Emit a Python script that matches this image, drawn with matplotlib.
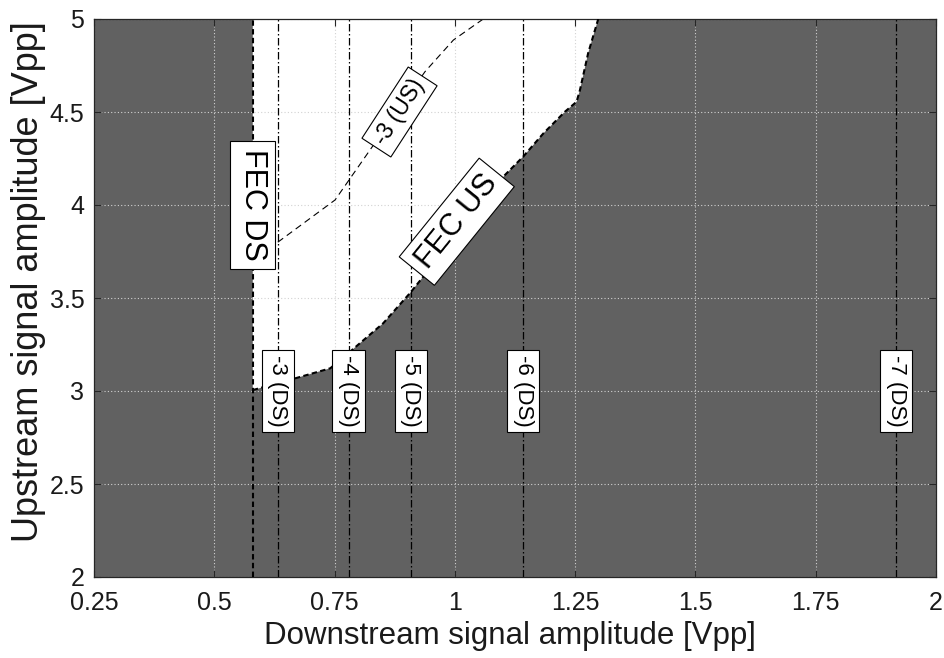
import matplotlib
matplotlib.use("Agg")
import matplotlib.pyplot as plt

plt.rcParams['font.family'] = ['Liberation Sans', 'DejaVu Sans']

# Axis ticks
x_ticks = [0.25, 0.5, 0.75, 1.0, 1.25, 1.5, 1.75, 2.0]
x_tick_labels = ['0.25', '0.5', '0.75', '1', '1.25', '1.5', '1.75', '2']
y_ticks = [2.0, 2.5, 3.0, 3.5, 4.0, 4.5, 5.0]
y_tick_labels = ['2', '2.5', '3', '3.5', '4', '4.5', '5']

# FEC thresholds
fec_ds_x = 0.58
fec_us_x = [0.58, 0.668, 0.741, 0.782, 0.851, 0.908, 1.104, 1.142, 1.184,
            1.229, 1.253, 1.260, 1.277, 1.298]
fec_us_y = [3.005, 3.068, 3.122, 3.211, 3.364, 3.53, 4.161, 4.26, 4.385,
            4.502, 4.555, 4.618, 4.816, 5.0]

# Upstream -3 contour
us3_x = [0.632, 0.751, 0.831, 0.938, 0.997, 1.059]
us3_y = [3.80, 4.027, 4.323, 4.717, 4.887, 5.0]
us3_label = '-3 (US)'

# Downstream contour levels (vertical)
ds_labels = ['-3 (DS)', '-4 (DS)', '-5 (DS)', '-6 (DS)', '-7 (DS)']
ds_x = [0.632, 0.779, 0.908, 1.142, 1.917]

fig = plt.figure(figsize=(9.44, 6.58), dpi=100)
ax = fig.add_axes([94 / 944, 1 - 577 / 658, 842 / 944, 558 / 658])
ax.set_facecolor('#616161')

# feasible (white) region
ax.fill([fec_ds_x] + fec_us_x, [5.0] + fec_us_y, color='white', lw=0, zorder=0.1)

ax.set_axisbelow(True)
ax.grid(True, color='#d2d2d2', linestyle=(0, (1, 2)), linewidth=0.8)

box = dict(boxstyle='square,pad=0.25', fc='white', ec='black', lw=0.8)

for xv, lab in zip(ds_x, ds_labels):
    ax.axvline(xv, color='black', lw=0.9, dashes=(6, 2, 1.2, 2), zorder=2)
    ax.text(xv, 3.0, lab, rotation=-90, ha='center', va='center',
            fontsize=16, bbox=box, zorder=4)

ax.plot(us3_x, us3_y, color='black', lw=0.8, dashes=(6, 4), zorder=2)
ax.text(0.885, 4.50, us3_label, rotation=57, ha='center', va='center',
        fontsize=16.5, bbox=box, zorder=4)

ax.axvline(fec_ds_x, color='black', lw=1.5, dashes=(2.6, 1.6), zorder=3)
ax.plot(fec_us_x, fec_us_y, color='black', lw=1.5, dashes=(2.6, 1.6), zorder=3)

ax.text(fec_ds_x, 4.0, 'FEC DS', rotation=-90, ha='center', va='center',
        fontsize=22, bbox=box, zorder=5)
ax.text(1.004, 3.91, 'FEC US', rotation=51, ha='center', va='center',
        fontsize=22, bbox=box, zorder=5)

ax.set_xlim(0.25, 2.0)
ax.set_ylim(2.0, 5.0)
ax.set_xticks(x_ticks)
ax.set_xticklabels(x_tick_labels)
ax.set_yticks(y_ticks)
ax.set_yticklabels(y_tick_labels)
ax.tick_params(direction='in', length=5, width=0.8, top=True, right=True,
               labelsize=18, color='#262626', labelcolor='#1a1a1a')
ax.tick_params(axis='x', pad=10)
ax.tick_params(axis='y', pad=7)
for s in ax.spines.values():
    s.set_color('#262626')
    s.set_linewidth(0.9)

ax.set_xlabel('Downstream signal amplitude [Vpp]', fontsize=22.5, color='#1a1a1a')
ax.set_ylabel('Upstream signal amplitude [Vpp]', fontsize=26, color='#1a1a1a')
ax.xaxis.set_label_coords(0.494, -0.079)
ax.yaxis.set_label_coords(-0.057, 0.529)

fig.savefig('out.png', dpi=100)
